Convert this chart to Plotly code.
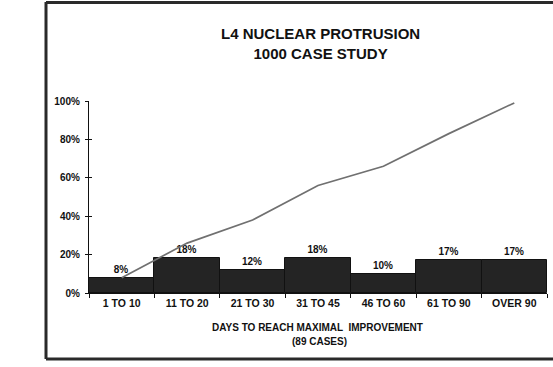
import plotly.graph_objects as go

categories = ["1 TO 10", "11 TO 20", "21 TO 30", "31 TO 45", "46 TO 60", "61 TO 90", "OVER 90"]
bar_values = [8, 18, 12, 18, 10, 17, 17]
bar_labels = ["8%", "18%", "12%", "18%", "10%", "17%", "17%"]
cumulative = [8, 26, 38, 56, 66, 83, 99]
y_ticks = [0, 20, 40, 60, 80, 100]
y_tick_labels = ["0%", "20%", "40%", "60%", "80%", "100%"]

FONT = "Liberation Sans, Arial, sans-serif"
W, H = 553, 367
L, R, T, B = 89, 6, 101, 74
pw, ph = W - L - R, H - T - B

def px_x(px):
    return (px - L) / pw

def px_y(py):
    return (H - B - py) / ph

fig = go.Figure()
fig.add_trace(go.Bar(
    x=categories, y=bar_values, text=bar_labels, textposition="outside",
    texttemplate="<b>%{text}</b>",
    textfont=dict(family=FONT, size=10, color="#111"),
    marker=dict(color="#242424", line=dict(color="#111", width=1)),
    cliponaxis=False, showlegend=False,
))
fig.add_trace(go.Scatter(
    x=categories, y=cumulative, mode="lines",
    line=dict(color="#707070", width=1.7), showlegend=False,
))
# invisible trace so the overlay axis (inside tick half) is drawn
fig.add_trace(go.Scatter(x=categories, y=cumulative, yaxis="y2", mode="lines",
                         line=dict(width=0), hoverinfo="skip", showlegend=False, opacity=0))

fig.update_layout(
    width=W, height=H,
    margin=dict(l=L, r=R, t=T, b=B, pad=0, autoexpand=False),
    paper_bgcolor="white", plot_bgcolor="white",
    bargap=0,
    font=dict(family=FONT, color="#111"),
    xaxis=dict(
        type="category", range=[-0.5, 6.5], tickson="boundaries",
        tickvals=categories, ticktext=[f"<b>{c}</b>" for c in categories],
        ticks="outside", ticklen=4, tickcolor="#111", tickwidth=1,
        showline=True, linecolor="#111", linewidth=1.2, showgrid=False,
        tickfont=dict(family=FONT, size=10.5, color="#111"),
        automargin=False,
    ),
    yaxis=dict(
        range=[0, 100], tickvals=y_ticks, ticktext=[f"<b>{t}</b>" for t in y_tick_labels],
        ticks="outside", ticklen=3, tickcolor="#111", tickwidth=1,
        showline=True, linecolor="#111", linewidth=1.2, showgrid=False,
        zeroline=False, tickfont=dict(family=FONT, size=10, color="#111"),
        ticklabelstandoff=3, automargin=False,
    ),
    yaxis2=dict(
        range=[0, 100], tickvals=y_ticks, overlaying="y", side="left",
        ticks="inside", ticklen=3, tickcolor="#111", tickwidth=1,
        showticklabels=False, showgrid=False, showline=False, zeroline=False,
        automargin=False,
    ),
)

fig.add_annotation(text="<b>L4 NUCLEAR PROTRUSION<br>1000 CASE STUDY</b>",
                   xref="paper", yref="paper", x=px_x(320), y=px_y(43.5),
                   xanchor="center", yanchor="middle", showarrow=False,
                   font=dict(family=FONT, size=15, color="#111"))
fig.add_annotation(text="<b>DAYS TO REACH MAXIMAL  IMPROVEMENT</b>",
                   xref="paper", yref="paper", x=px_x(317), y=px_y(327),
                   xanchor="center", yanchor="middle", showarrow=False,
                   font=dict(family=FONT, size=10, color="#111"))
fig.add_annotation(text="<b>(89 CASES)</b>",
                   xref="paper", yref="paper", x=px_x(319), y=px_y(341),
                   xanchor="center", yanchor="middle", showarrow=False,
                   font=dict(family=FONT, size=10, color="#111"))

# outer frame of the scanned page
fig.add_shape(type="line", xref="paper", yref="paper",
              x0=px_x(46), x1=px_x(46), y0=px_y(2), y1=px_y(359),
              line=dict(color="#2a2a2a", width=3))
fig.add_shape(type="line", xref="paper", yref="paper",
              x0=px_x(46), x1=px_x(560), y0=px_y(2.5), y1=px_y(2.5),
              line=dict(color="#2a2a2a", width=3))
fig.add_shape(type="line", xref="paper", yref="paper",
              x0=px_x(46), x1=px_x(560), y0=px_y(359), y1=px_y(359),
              line=dict(color="#2a2a2a", width=3))

fig.write_html("out.html", config={"displayModeBar": False},
               post_script="document.body.style.margin='0';")
